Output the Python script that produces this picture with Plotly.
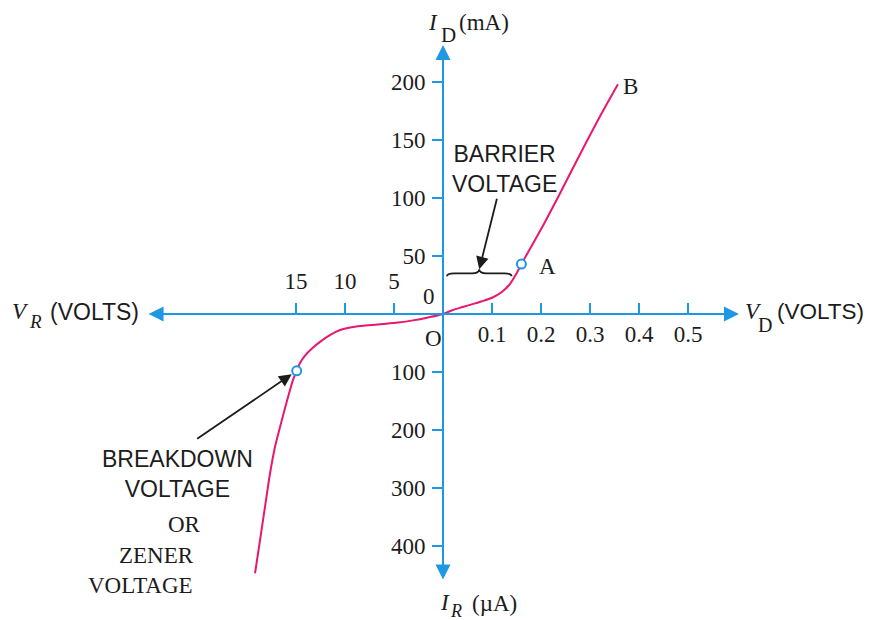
import plotly.graph_objects as go

# ---------------- data ----------------
# forward bias: V_D (volts) vs I_D (mA)
vd_volts = [0, 0.02, 0.04, 0.06, 0.08, 0.10, 0.12, 0.135, 0.15, 0.16, 0.18, 0.20, 0.24, 0.28, 0.32, 0.357]
id_ma = [0, 3.5, 6, 8.5, 11, 14, 19, 25, 35, 43, 58, 73, 105, 138, 170, 198]
# reverse bias: V_R (volts) vs I_R (µA)
vr_volts = [0, 1.53, 3.06, 4.59, 6.12, 7.65, 9.18, 10.5, 11.5, 12.55, 13.37, 14.08, 14.59,
            14.93, 15.31, 15.61, 16.12, 16.63, 17.14, 17.65, 18.16, 18.67, 19.18]
ir_ua = [0, 6, 11, 14.7, 17.2, 19.5, 22.4, 27.6, 36, 48, 59.5, 71.6, 84.5,
         98, 114, 131, 162, 195, 229, 275, 332, 390, 447]

point_a = (0.16, 43)          # knee point A (V, mA)
breakdown_pt = (14.93, 98)    # breakdown point (V, µA)
barrier_span = (0.008, 0.14)  # brace extent (V)
barrier_level = 35            # brace height (mA)

fwd_v_ticks = [0.1, 0.2, 0.3, 0.4, 0.5]
rev_v_ticks = [5, 10, 15]
fwd_i_ticks = [50, 100, 150, 200]
rev_i_ticks = [100, 200, 300, 400]

# ---------------- scale helpers (one tick step = one unit) ----------------
FWD_V_STEP, REV_V_STEP = 0.1, 5.0
FWD_I_STEP, REV_I_STEP = 50.0, 100.0
fx = lambda v: v / FWD_V_STEP
rx = lambda v: -v / REV_V_STEP
fy = lambda i: i / FWD_I_STEP
ry = lambda i: -i / REV_I_STEP

OFF = 8                      # page body margin
W, H = 873 - OFF, 620 - OFF  # figure size
X0, Y0, PXX, PXY = 443 - OFF, 314 - OFF, 49.0, 58.0
XR = [-X0 / PXX, (W - X0) / PXX]
YR = [(Y0 - H) / PXY, Y0 / PXY]

BLUE = "#1E98E2"
PINK = "#E8176F"
INK = "#1c1c1c"
SERIF = "Liberation Serif, Times New Roman, serif"
SANS = "Liberation Sans, Arial, sans-serif"

curve_x = [rx(v) for v in reversed(vr_volts)] + [fx(v) for v in vd_volts[1:]]
curve_y = [ry(i) for i in reversed(ir_ua)] + [fy(i) for i in id_ma[1:]]

fig = go.Figure()
fig.add_trace(go.Scatter(x=curve_x, y=curve_y, mode="lines",
                         line=dict(color=PINK, width=2, shape="spline", smoothing=0.8),
                         hoverinfo="skip", showlegend=False))
fig.add_trace(go.Scatter(x=[fx(point_a[0])], y=[fy(point_a[1])], mode="markers",
                         marker=dict(symbol="circle", size=9, color="white",
                                     line=dict(color=BLUE, width=2)),
                         showlegend=False))
fig.add_trace(go.Scatter(x=[rx(breakdown_pt[0])], y=[ry(breakdown_pt[1])], mode="markers",
                         xaxis="x2",
                         marker=dict(symbol="circle", size=9, color="white",
                                     line=dict(color=BLUE, width=2)),
                         showlegend=False))

def P(px, py):
    return (px - OFF) / W, 1 - (py - OFF) / H

annotations = []

def text(px, py, s, font=SERIF, size=23, **kw):
    xp, yp = P(px, py)
    annotations.append(dict(x=xp, y=yp, xref="paper", yref="paper", text=s,
                            showarrow=False, xanchor="center", yanchor="middle",
                            font=dict(family=font, size=size, color=INK), **kw))

# axis arrows
annotations.append(dict(x=6.04, y=0, ax=-6.04, ay=0, xref="x", yref="y", axref="x", ayref="y",
                        text="", showarrow=True, arrowside="end+start", arrowhead=2,
                        startarrowhead=2, arrowsize=1.5, startarrowsize=1.5,
                        arrowwidth=2, arrowcolor=BLUE))
annotations.append(dict(x=0, y=4.638, ax=0, ay=-4.603, xref="x", yref="y", axref="x", ayref="y",
                        text="", showarrow=True, arrowside="end+start", arrowhead=2,
                        startarrowhead=2, arrowsize=1.5, startarrowsize=1.5,
                        arrowwidth=2, arrowcolor=BLUE))

# axis titles
text(433, 22, "<i>I</i>")
text(448, 35, "D", size=21)
text(484, 22, "(mA)")
text(20, 311, "<i>V</i>")
text(36, 321, "<i>R</i>", size=19)
text(94, 312, "(VOLTS)", font=SANS, size=23)
text(753, 311, "<i>V</i>")
text(765, 325, "D", size=20)
text(820, 311, "(VOLTS)", font=SANS, size=22.5)
text(445, 602, "<i>I</i>")
text(456, 611, "<i>R</i>", size=18)
text(494, 603, "(µA)")

# origin labels and point labels
text(429, 296, "0")
text(433, 338, "O")
text(547, 266, "A")
text(630, 86, "B")

# explanatory text
text(504, 169, "BARRIER<br>VOLTAGE", font=SANS, size=23)
text(177, 474, "BREAKDOWN<br>VOLTAGE", font=SANS, size=23)
text(184, 524, "OR", size=23)
text(156, 555, "ZENER", size=23)
text(140, 585, "VOLTAGE", size=23)

# brace for barrier voltage
bx0, bx1 = fx(barrier_span[0]), fx(barrier_span[1])
by = fy(barrier_level)
bxc = (bx0 + bx1) / 2
dx, cusp, dip = 0.15, 0.07, 0.05
brace = (f"M {bx0},{by - dip} Q {bx0},{by} {bx0 + dx},{by} L {bxc - dx},{by} "
         f"Q {bxc},{by} {bxc},{by + cusp} Q {bxc},{by} {bxc + dx},{by} "
         f"L {bx1 - dx},{by} Q {bx1},{by} {bx1},{by - dip}")
shapes = [dict(type="path", path=brace, xref="x", yref="y",
               line=dict(color=INK, width=1.8))]

# pointer arrows
annotations.append(dict(x=bxc, y=by + cusp, xref="x", yref="y", ax=18, ay=-72,
                        text="", showarrow=True, arrowhead=2, arrowsize=1.4,
                        arrowwidth=1.8, arrowcolor=INK))
annotations.append(dict(x=rx(breakdown_pt[0]), y=ry(breakdown_pt[1]), xref="x", yref="y",
                        ax=-101, ay=69, standoff=6,
                        text="", showarrow=True, arrowhead=2, arrowsize=1.4,
                        arrowwidth=1.8, arrowcolor=INK))

tickfont = dict(family=SERIF, size=23, color=INK)
fig.update_layout(
    width=W, height=H, margin=dict(l=0, r=0, t=0, b=0, pad=0),
    paper_bgcolor="white", plot_bgcolor="white",
    xaxis=dict(range=XR, domain=[0, 1], anchor="free", position=1 - Y0 / H, side="bottom",
               showgrid=False, zeroline=False, showline=False,
               tickvals=[fx(v) for v in fwd_v_ticks], ticktext=[str(v) for v in fwd_v_ticks],
               ticks="inside", ticklen=11, tickwidth=2, tickcolor=BLUE, tickfont=tickfont,
               ticklabelstandoff=4),
    xaxis2=dict(range=XR, domain=[0, 1], overlaying="x", anchor="free", position=1 - Y0 / H,
                side="top", showgrid=False, zeroline=False, showline=False,
                tickvals=[rx(v) for v in rev_v_ticks], ticktext=[str(v) for v in rev_v_ticks],
                ticks="outside", ticklen=11, tickwidth=2, tickcolor=BLUE, tickfont=tickfont,
                ticklabelstandoff=5),
    yaxis=dict(range=YR, domain=[0, 1], anchor="free", position=X0 / W, side="left",
               showgrid=False, zeroline=False, showline=False,
               tickvals=[fy(i) for i in fwd_i_ticks] + [ry(i) for i in rev_i_ticks],
               ticktext=[str(i) for i in fwd_i_ticks] + [str(i) for i in rev_i_ticks],
               ticks="outside", ticklen=11, tickwidth=2, tickcolor=BLUE, tickfont=tickfont,
               ticklabelstandoff=2),
    annotations=annotations, shapes=shapes, showlegend=False,
)

fig.write_html("out.html")
